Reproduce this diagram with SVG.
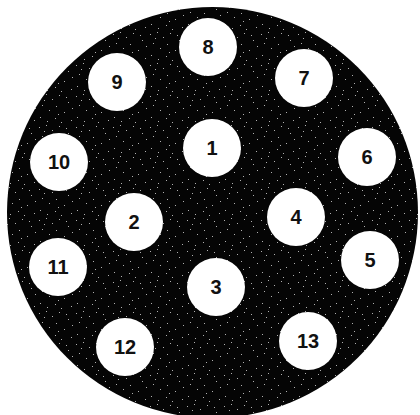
<svg xmlns="http://www.w3.org/2000/svg" width="420" height="415" viewBox="0 0 420 415">
<style>
.pin circle{fill:#fff}
.pin text{font-family:"Liberation Sans",Arial,sans-serif;font-size:20px;font-weight:bold;fill:#111;text-anchor:middle;dominant-baseline:central}
</style>
<defs>
<pattern id="stip" width="37" height="31" patternUnits="userSpaceOnUse">
<rect width="37" height="31" fill="#050505"/>
<g fill="#b0b0b0">
<rect x="2" y="3" width="1" height="1"/><rect x="9" y="1" width="1" height="1"/><rect x="15" y="6" width="1" height="1"/>
<rect x="22" y="2" width="1" height="1"/><rect x="31" y="9" width="1" height="1"/><rect x="5" y="12" width="1" height="1"/>
<rect x="12" y="17" width="1" height="1"/><rect x="19" y="13" width="1" height="1"/><rect x="27" y="19" width="1" height="1"/>
<rect x="3" y="24" width="1" height="1"/><rect x="10" y="28" width="1" height="1"/><rect x="18" y="25" width="1" height="1"/>
<rect x="34" y="27" width="1" height="1"/><rect x="24" y="29" width="1" height="1"/><rect x="29" y="4" width="1" height="1"/>
<rect x="35" y="15" width="1" height="1"/><rect x="21" y="21" width="1" height="1"/><rect x="7" y="7" width="1" height="1"/>
</g>
</pattern>
</defs>
<rect width="420" height="415" fill="#fff"/>
<g id="housing"><circle cx="212.5" cy="212.5" r="205.5" fill="url(#stip)"/></g>
<g id="connectors"/>
<g id="p1" class="pin"><circle cx="212" cy="148" r="29"/><text x="212" y="148">1</text></g>
<g id="p2" class="pin"><circle cx="134" cy="222" r="29"/><text x="134" y="222">2</text></g>
<g id="p3" class="pin"><circle cx="216" cy="287" r="29"/><text x="216" y="287">3</text></g>
<g id="p4" class="pin"><circle cx="296" cy="217" r="29"/><text x="296" y="217">4</text></g>
<g id="p5" class="pin"><circle cx="370" cy="260" r="29"/><text x="370" y="260">5</text></g>
<g id="p6" class="pin"><circle cx="367" cy="157" r="29"/><text x="367" y="157">6</text></g>
<g id="p7" class="pin"><circle cx="304" cy="78" r="29"/><text x="304" y="78">7</text></g>
<g id="p8" class="pin"><circle cx="208" cy="47" r="29"/><text x="208" y="47">8</text></g>
<g id="p9" class="pin"><circle cx="117" cy="82" r="29"/><text x="117" y="82">9</text></g>
<g id="p10" class="pin"><circle cx="59" cy="162" r="29"/><text x="59" y="162">10</text></g>
<g id="p11" class="pin"><circle cx="58" cy="267" r="29"/><text x="58" y="267">11</text></g>
<g id="p12" class="pin"><circle cx="125" cy="347" r="29"/><text x="125" y="347">12</text></g>
<g id="p13" class="pin"><circle cx="308" cy="341" r="29"/><text x="308" y="341">13</text></g>
</svg>
